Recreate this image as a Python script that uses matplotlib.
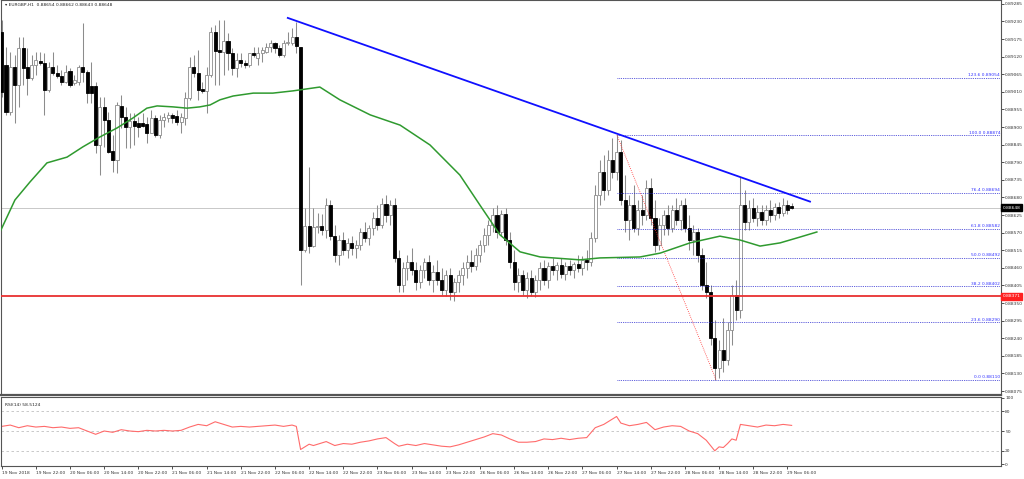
import matplotlib
matplotlib.use("Agg")
import matplotlib.pyplot as plt
import matplotlib.transforms as mtransforms

# ---------------- data ----------------
opens = [0.89198,0.89094,0.88948,0.89089,0.89031,0.89146,0.89088,0.89052,0.89094,0.89106,
         0.89099,0.89016,0.89089,0.89070,0.89059,0.89042,0.89076,0.89037,0.89042,0.89089,
         0.89073,0.89028,0.89028,0.88844,0.88962,0.88922,0.88825,0.88797,0.88966,0.88932,
         0.88901,0.88920,0.88914,0.88914,0.88910,0.88880,0.88927,0.88875,0.88922,0.88927,
         0.88938,0.88935,0.88917,0.88927,0.88990,0.89089,0.89070,0.89018,0.89013,0.89063,
         0.89198,0.89141,0.89136,0.89170,0.89130,0.89083,0.89109,0.89101,0.89094,0.89130,
         0.89115,0.89130,0.89136,0.89151,0.89162,0.89146,0.89125,0.89162,0.89164,0.89180,
         0.89151,0.88516,0.88591,0.88528,0.88589,
         0.88591,0.88578,0.88656,0.88559,0.88500,0.88547,0.88516,0.88538,0.88522,0.88531,
         0.88572,0.88553,0.88585,0.88616,0.88594,0.88659,0.88625,0.88656,0.88491,0.88406,
         0.88460,0.88478,0.88453,0.88416,0.88453,0.88478,0.88422,0.88447,0.88422,0.88391,
         0.88438,0.88385,0.88416,0.88438,0.88460,0.88478,0.88466,0.88500,0.88531,0.88563,
         0.88594,0.88625,0.88572,0.88628,0.88547,0.88478,0.88416,0.88438,0.88391,0.88428,
         0.88385,0.88422,0.88460,0.88422,0.88466,0.88453,0.88469,0.88441,0.88466,0.88453,
         0.88472,0.88460,0.88485,0.88478,0.88553,0.88688,0.88760,0.88703,0.88797,0.88760,
         0.88822,0.88672,0.88610,0.88656,0.88585,0.88641,0.88625,0.88710,0.88616,0.88531,
         0.88594,0.88625,0.88585,0.88641,0.88610,0.88656,0.88585,0.88547,0.88572,0.88500,
         0.88406,0.88385,0.88241,0.88147,0.88203,0.88172,0.88266,0.88375,0.88328,0.88656,
         0.88603,0.88647,0.88616,0.88634,0.88610,0.88641,0.88625,0.88650,0.88631,0.88656,
         0.88654]
highs = [0.89234,0.89151,0.89136,0.89125,0.89182,0.89182,0.89146,0.89125,0.89136,0.89136,
         0.89130,0.89104,0.89136,0.89094,0.89078,0.89094,0.89083,0.89063,0.89094,0.89224,
         0.89078,0.89104,0.89042,0.88995,0.88995,0.88948,0.88875,0.88979,0.89000,0.88964,
         0.88943,0.88943,0.88932,0.88943,0.88932,0.88953,0.88938,0.88938,0.88943,0.88948,
         0.88943,0.88953,0.88943,0.89011,0.89120,0.89125,0.89141,0.89042,0.89089,0.89214,
         0.89219,0.89234,0.89234,0.89193,0.89146,0.89130,0.89130,0.89109,0.89132,0.89151,
         0.89151,0.89151,0.89162,0.89172,0.89167,0.89156,0.89172,0.89198,0.89208,0.89229,
         0.89151,0.88646,0.88776,0.88646,0.88630,
         0.88628,0.88678,0.88672,0.88594,0.88563,0.88572,0.88553,0.88559,0.88547,0.88585,
         0.88603,0.88594,0.88634,0.88656,0.88678,0.88688,0.88672,0.88678,0.88516,0.88478,
         0.88500,0.88522,0.88478,0.88469,0.88491,0.88500,0.88469,0.88485,0.88460,0.88453,
         0.88460,0.88428,0.88453,0.88478,0.88500,0.88516,0.88522,0.88547,0.88585,0.88610,
         0.88647,0.88656,0.88641,0.88647,0.88572,0.88516,0.88460,0.88453,0.88447,0.88453,
         0.88438,0.88478,0.88485,0.88478,0.88491,0.88478,0.88491,0.88478,0.88485,0.88478,
         0.88500,0.88497,0.88516,0.88572,0.88719,0.88797,0.88813,0.88828,0.88866,0.88874,
         0.88860,0.88750,0.88688,0.88719,0.88672,0.88688,0.88735,0.88741,0.88672,0.88616,
         0.88641,0.88656,0.88656,0.88678,0.88672,0.88678,0.88625,0.88594,0.88585,0.88522,
         0.88478,0.88406,0.88297,0.88235,0.88303,0.88291,0.88406,0.88422,0.88744,0.88703,
         0.88672,0.88678,0.88656,0.88656,0.88656,0.88672,0.88663,0.88666,0.88678,0.88672,
         0.88662]
lows = [0.88995,0.88938,0.88938,0.88912,0.88964,0.89031,0.89000,0.89047,0.89063,0.89094,
        0.88938,0.89011,0.89063,0.89052,0.89031,0.89037,0.89026,0.89031,0.89031,0.89042,
        0.88974,0.88974,0.88818,0.88750,0.88839,0.88820,0.88761,0.88755,0.88896,0.88833,
        0.88833,0.88844,0.88870,0.88901,0.88849,0.88880,0.88870,0.88865,0.88901,0.88917,
        0.88912,0.88906,0.88880,0.88906,0.88984,0.89057,0.88984,0.89005,0.88943,0.89057,
        0.89031,0.89031,0.89063,0.89078,0.89063,0.89057,0.89089,0.89083,0.89089,0.89120,
        0.89094,0.89104,0.89130,0.89136,0.89130,0.89120,0.89120,0.89156,0.89156,0.89130,
        0.88406,0.88511,0.88505,0.88526,0.88568,
        0.88563,0.88553,0.88547,0.88478,0.88469,0.88500,0.88491,0.88500,0.88491,0.88516,
        0.88541,0.88531,0.88563,0.88578,0.88585,0.88603,0.88594,0.88478,0.88385,0.88385,
        0.88422,0.88438,0.88391,0.88397,0.88428,0.88406,0.88385,0.88406,0.88375,0.88372,
        0.88360,0.88356,0.88385,0.88406,0.88428,0.88447,0.88453,0.88478,0.88509,0.88531,
        0.88572,0.88553,0.88559,0.88531,0.88460,0.88391,0.88385,0.88375,0.88366,0.88372,
        0.88369,0.88391,0.88406,0.88397,0.88438,0.88422,0.88428,0.88422,0.88438,0.88428,
        0.88447,0.88438,0.88453,0.88466,0.88541,0.88656,0.88672,0.88688,0.88741,0.88735,
        0.88656,0.88572,0.88547,0.88572,0.88563,0.88594,0.88610,0.88594,0.88509,0.88516,
        0.88563,0.88563,0.88572,0.88594,0.88578,0.88572,0.88516,0.88500,0.88478,0.88391,
        0.88366,0.88219,0.88110,0.88116,0.88135,0.88156,0.88219,0.88297,0.88303,0.88578,
        0.88578,0.88603,0.88591,0.88594,0.88594,0.88603,0.88610,0.88616,0.88622,0.88628,
        0.88643]
closes = [0.89011,0.88948,0.89089,0.89031,0.89146,0.89083,0.89052,0.89094,0.89109,0.89099,
          0.89016,0.89089,0.89068,0.89059,0.89042,0.89073,0.89031,0.89047,0.89089,0.89073,
          0.89005,0.89005,0.88844,0.88964,0.88922,0.88823,0.88797,0.88969,0.88932,0.88901,
          0.88920,0.88903,0.88901,0.88903,0.88880,0.88927,0.88875,0.88922,0.88930,0.88938,
          0.88927,0.88917,0.88932,0.88990,0.89089,0.89070,0.89016,0.89013,0.89063,0.89198,
          0.89139,0.89136,0.89170,0.89130,0.89083,0.89109,0.89099,0.89094,0.89130,0.89125,
          0.89130,0.89141,0.89151,0.89162,0.89146,0.89125,0.89164,0.89167,0.89180,0.89153,
          0.88516,0.88591,0.88528,0.88589,0.88591,
          0.88578,0.88656,0.88559,0.88500,0.88547,0.88516,0.88538,0.88522,0.88531,0.88572,
          0.88553,0.88585,0.88616,0.88594,0.88659,0.88625,0.88656,0.88491,0.88406,0.88460,
          0.88478,0.88453,0.88416,0.88453,0.88478,0.88422,0.88447,0.88422,0.88391,0.88438,
          0.88385,0.88416,0.88438,0.88460,0.88478,0.88466,0.88500,0.88531,0.88563,0.88594,
          0.88625,0.88572,0.88628,0.88547,0.88478,0.88416,0.88438,0.88391,0.88428,0.88385,
          0.88422,0.88460,0.88422,0.88466,0.88453,0.88469,0.88441,0.88466,0.88453,0.88472,
          0.88460,0.88485,0.88478,0.88553,0.88688,0.88760,0.88703,0.88797,0.88760,0.88822,
          0.88672,0.88610,0.88656,0.88585,0.88641,0.88625,0.88710,0.88616,0.88531,0.88594,
          0.88625,0.88585,0.88641,0.88610,0.88656,0.88585,0.88547,0.88572,0.88500,0.88406,
          0.88385,0.88241,0.88147,0.88203,0.88172,0.88266,0.88375,0.88328,0.88656,0.88603,
          0.88647,0.88616,0.88634,0.88610,0.88641,0.88625,0.88650,0.88631,0.88656,0.88641,
          0.88648]

time_labels = ["19 Nov 2018","19 Nov 22:00","20 Nov 06:00","20 Nov 14:00","20 Nov 22:00",
               "21 Nov 06:00","21 Nov 14:00","21 Nov 22:00","22 Nov 06:00","22 Nov 14:00",
               "22 Nov 22:00","23 Nov 06:00","23 Nov 14:00","23 Nov 22:00","26 Nov 06:00",
               "26 Nov 14:00","26 Nov 22:00","27 Nov 06:00","27 Nov 14:00","27 Nov 22:00",
               "28 Nov 06:00","28 Nov 14:00","28 Nov 22:00","29 Nov 06:00"]
time_label_idx = [0,8,16,24,32,40,48,56,64,72,80,88,96,104,112,120,128,136,144,152,160,168,176,184]

price_ticks = [0.89285,0.89230,0.89175,0.89120,0.89065,0.89010,0.88955,0.88900,0.88845,0.88790,
               0.88735,0.88680,0.88625,0.88570,0.88515,0.88460,0.88405,0.88350,0.88295,0.88240,
               0.88185,0.88130,0.88075]

ma_idx = [-0.4,3.1,6.6,10.6,15.3,19.0,23.0,27.0,30.7,34.0,36.4,40.1,43.4,46.4,48.8,51.1,54.2,58.9,63.5,
          68.2,74.5,79.2,86.3,93.3,100.3,107.3,112.0,116.7,121.4,126.1,135.4,140.1,149.5,154.2,161.2,
          168.2,172.9,177.6,182.3,186.9,190.9]
ma_val = [0.88572,0.88672,0.88728,0.88788,0.88806,0.88838,0.88869,0.88897,0.88928,0.88959,0.88966,
          0.88963,0.88959,0.88963,0.88969,0.88985,0.88997,0.89006,0.89006,0.89013,0.89025,0.88985,
          0.88938,0.88906,0.88844,0.88750,0.88656,0.88563,0.88510,0.88494,0.88485,0.88491,0.88494,
          0.88506,0.88538,0.88559,0.88547,0.88528,0.88538,0.88556,0.88572]

rsi_idx = [0,2,4,6,8,10,12,14,16,18,20,22,24,26,28,30,32,34,36,38,40,42,44,46,48,50,52,54,56,58,
           60,62,64,66,68,69,70,71,72,73,74,76,78,80,82,84,86,88,90,92,93,95,97,99,101,103,105,107,
           109,111,113,115,117,119,121,123,125,127,129,131,133,135,137,139,141,143,144,145,147,149,
           151,153,155,157,159,161,163,165,166,167,168,169,170,171,172,173,175,177,179,181,183,185]
rsi_val = [57,59,55,58,56,57,55,56,54,55,50,45,50,48,52,50,49,51,50,51,50,51,56,60,58,64,60,56,57,56,
           57,58,59,57,59,57,22,26,30,28,30,34,28,31,30,33,35,38,40,31,27,30,28,31,29,27,26,29,
           33,37,41,46,44,38,33,33,34,38,37,39,37,39,40,55,60,68,72,62,58,60,
           63,52,56,58,57,50,46,36,28,20,26,25,31,38,36,60,58,56,59,58,60,58.5]

trend_idx = [67.0, 189.3]
trend_val = [0.89241, 0.88667]

fib_levels = ["123.6","100.0","76.4","61.8","50.0","38.2","23.6","0.0"]
fib_prices = [0.89054,0.88874,0.88694,0.88582,0.88492,0.88402,0.88290,0.88110]
fib_start_idx = 144.1
fib_end_idx = 167.3

current_price = 0.88648
support_price = 0.88371

# ---------------- layout ----------------
W, H = 1024, 479
PX0, PXS = 1.7, 4.27          # pixel of candle 0, pixels per candle
FS = 3.2
GRAY = "#8c8c8c"

fig = plt.figure(figsize=(W/100, H/100), dpi=100)
fig.patch.set_facecolor("white")

def idx_of_px(px):
    return (px - PX0) / PXS

ax = fig.add_axes([1/W, 1-395/H, 1000/W, 395/H])
rx = fig.add_axes([1/W, 13/H, 1000/W, 69/H], sharex=ax)

xl = (idx_of_px(1), idx_of_px(1001))
ax.set_xlim(*xl)
ax.set_ylim(0.89297 - 395*0.00003125, 0.89297)

for a in (ax, rx):
    for s in a.spines.values():
        s.set_color("#555555")
        s.set_linewidth(0.8)
    a.yaxis.tick_right()
    a.tick_params(axis="y", direction="out", length=2, width=0.6, pad=1,
                  labelsize=FS, colors="#333333")
ax.spines["bottom"].set_linewidth(1.6)

# candles
n = len(opens)
xs = list(range(n))
ax.vlines(xs, lows, highs, color=GRAY, linewidth=0.75, zorder=2)
for i in range(n):
    o, c = opens[i], closes[i]
    bull = c >= o
    bottom = min(o, c)
    height = max(abs(c - o), 0.000012)
    ax.bar(i, height, bottom=bottom, width=0.72,
           color="white" if bull else "black",
           edgecolor=GRAY if bull else "black", linewidth=0.6, zorder=3)

# horizontal lines
ax.axhline(current_price, color="#c8c8c8", linewidth=0.7, zorder=1)
ax.axhline(support_price, color="#e83030", linewidth=1.3, zorder=4)

# MA
ax.plot(ma_idx, ma_val, color="#2f9a2f", linewidth=1.1, zorder=5)

# trend line
ax.plot(trend_idx, trend_val, color="#1010ff", linewidth=1.3, zorder=6)

# fib
right_idx = xl[1] - 0.2
for lv, pr in zip(fib_levels, fib_prices):
    ax.plot([fib_start_idx, right_idx], [pr, pr], color="#2a2ad0", linewidth=0.6,
            linestyle=(0, (1, 1.2)), zorder=4)
    ax.text(right_idx, pr + 0.00002, f"{lv} {pr:.5f}", color="#3333ff", fontsize=FS,
            ha="right", va="bottom", zorder=7)
ax.plot([fib_start_idx, fib_end_idx], [fib_prices[1], fib_prices[-1]], color="#ff3030",
        linewidth=0.6, linestyle=(0, (1, 1.5)), zorder=4)

# y ticks
ax.set_yticks(price_ticks)
ax.set_yticklabels([f"{p:.5f}" for p in price_ticks])
ax.tick_params(axis="x", bottom=False, labelbottom=False)

# axis price boxes
tr = mtransforms.blended_transform_factory(ax.transAxes, ax.transData)
for p, col in ((current_price, "black"), (support_price, "#ff2020")):
    ax.text(1.0015, p, f"{p:.5f}", transform=tr, fontsize=FS, color="white",
            ha="left", va="center", clip_on=False, zorder=10,
            bbox=dict(boxstyle="square,pad=0.35", fc=col, ec=col))

# title
ax.text(4/1000, 1-5/395, "\u25BE EURGBP,H1  0.88654 0.88662 0.88643 0.88648", transform=ax.transAxes,
        fontsize=FS, ha="left", va="center", color="#222222")

# RSI
rx.set_ylim(-3, 101.5)
for lvl in (80, 50, 20):
    rx.axhline(lvl, color="#c0c0c0", linewidth=0.6, linestyle=(0, (3, 3)))
rx.plot(rsi_idx, rsi_val, color="#ff6b6b", linewidth=0.8)
rx.set_yticks([100, 80, 50, 20, 0])
rx.set_yticklabels(["100", "80", "50", "20", "0"])
rx.text(4/1000, 1-8/69, "RSI(14) 58.5124", transform=rx.transAxes, fontsize=FS,
        ha="left", va="center", color="#222222")

rx.set_xticks(time_label_idx)
rx.set_xticklabels(time_labels, ha="left")
rx.tick_params(axis="x", direction="out", length=2, width=0.6, pad=1.5,
               labelsize=FS, colors="#333333")

fig.savefig("out.png", dpi=100, facecolor="white")
